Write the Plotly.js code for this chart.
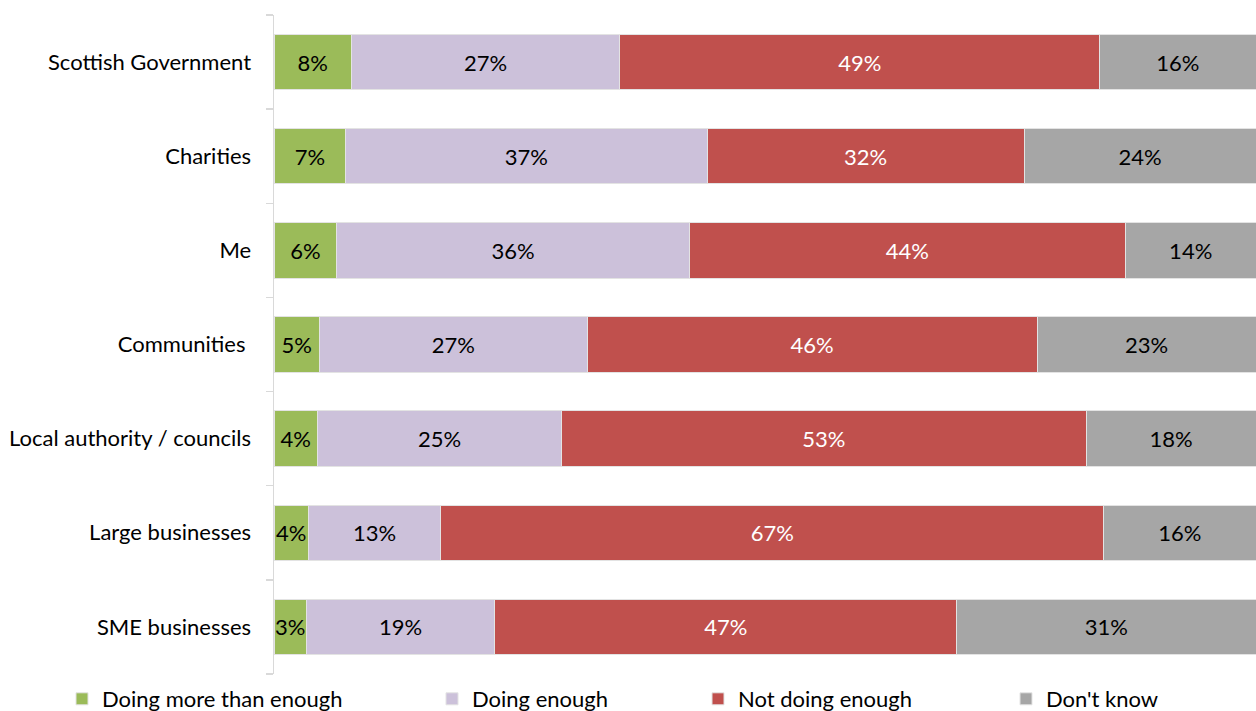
<!DOCTYPE html>
<html>
<head>
<meta charset="utf-8">
<script src="https://cdn.plot.ly/plotly-3.0.1.min.js"></script>
<style>html,body{margin:0;padding:0;background:#fff;}#chart{width:1256px;height:711px;}</style>
</head>
<body>
<div id="chart"></div>
<script>
const categories = ["Scottish Government","Charities","Me","Communities","Local authority / councils","Large businesses","SME businesses"];
const seriesNames = ["Doing more than enough","Doing enough","Not doing enough","Don't know"];
// bar lengths (percent)
const moreThanEnough = [7.9, 7.3, 6.4, 4.6, 4.4, 3.5, 3.3];
const doingEnough    = [27.3, 36.8, 35.9, 27.3, 24.9, 13.5, 19.2];
const notEnough      = [48.9, 32.3, 44.4, 45.8, 53.4, 67.5, 47.0];
const dontKnow       = [15.9, 23.6, 13.3, 22.3, 17.3, 15.5, 30.5];
// data labels as printed
const moreThanEnoughLabels = ["8%","7%","6%","5%","4%","4%","3%"];
const doingEnoughLabels    = ["27%","37%","36%","27%","25%","13%","19%"];
const notEnoughLabels      = ["49%","32%","44%","46%","53%","67%","47%"];
const dontKnowLabels       = ["16%","24%","14%","23%","18%","16%","31%"];

const colors = ["#9BBB59","#CCC1DA","#C0504D","#A6A6A6"];
const textColors = ["#000000","#000000","#ffffff","#000000"];
const values = [moreThanEnough, doingEnough, notEnough, dontKnow];
const labels = [moreThanEnoughLabels, doingEnoughLabels, notEnoughLabels, dontKnowLabels];
const legendIds = ["legend","legend2","legend3","legend4"];
const FONT = "Lato, 'Open Sans', sans-serif";
const FS = 22;

const traces = values.map((v, i) => ({
  type: "bar",
  orientation: "h",
  name: seriesNames[i],
  y: categories,
  x: v,
  text: labels[i],
  textposition: "inside",
  insidetextanchor: "middle",
  textangle: 0,
  constraintext: "none",
  textfont: {family: FONT, size: FS, color: textColors[i]},
  marker: {color: colors[i], line: {color: "#e3e3e3", width: 1}},
  legend: legendIds[i],
  hoverinfo: "skip"
}));

const legendX = [62, 432, 698, 1006];
const plotL = 274, plotW = 1256 - 274;
const plotT = 15, plotH = 711 - 15 - 37;
function mkLegend(px) {
  return {
    orientation: "h", x: (px - plotL) / plotW, xanchor: "left",
    y: (plotT + plotH - 699) / plotH, yanchor: "middle",
    font: {family: FONT, size: FS, color: "#000"},
    bgcolor: "rgba(0,0,0,0)", borderwidth: 0, itemclick: false
  };
}

const tickText = categories.map(c => c === "Communities" ? c + "\u00a0" : c);

const layout = {
  width: 1256, height: 711,
  margin: {l: 274, r: 0, t: 15, b: 37, pad: 0, autoexpand: false},
  paper_bgcolor: "#fff", plot_bgcolor: "#fff",
  barmode: "stack",
  bargap: 0.412,
  showlegend: true,
  legend: mkLegend(legendX[0]),
  legend2: mkLegend(legendX[1]),
  legend3: mkLegend(legendX[2]),
  legend4: mkLegend(legendX[3]),
  xaxis: {range: [0, 100], visible: false, fixedrange: true},
  yaxis: {
    type: "category", autorange: "reversed",
    tickmode: "array", tickvals: categories, ticktext: tickText,
    tickson: "boundaries", ticks: "outside", ticklen: 7, tickcolor: "#d9d9d9", tickwidth: 1.5,
    showline: true, linecolor: "#d9d9d9", linewidth: 1.5,
    showgrid: false, zeroline: false,
    ticklabelstandoff: 17,
    tickfont: {family: FONT, size: FS, color: "#000"},
    fixedrange: true
  },
  font: {family: FONT, size: FS, color: "#000"}
};

Plotly.newPlot("chart", traces, layout, {staticPlot: true, displayModeBar: false});
</script>
</body>
</html>
